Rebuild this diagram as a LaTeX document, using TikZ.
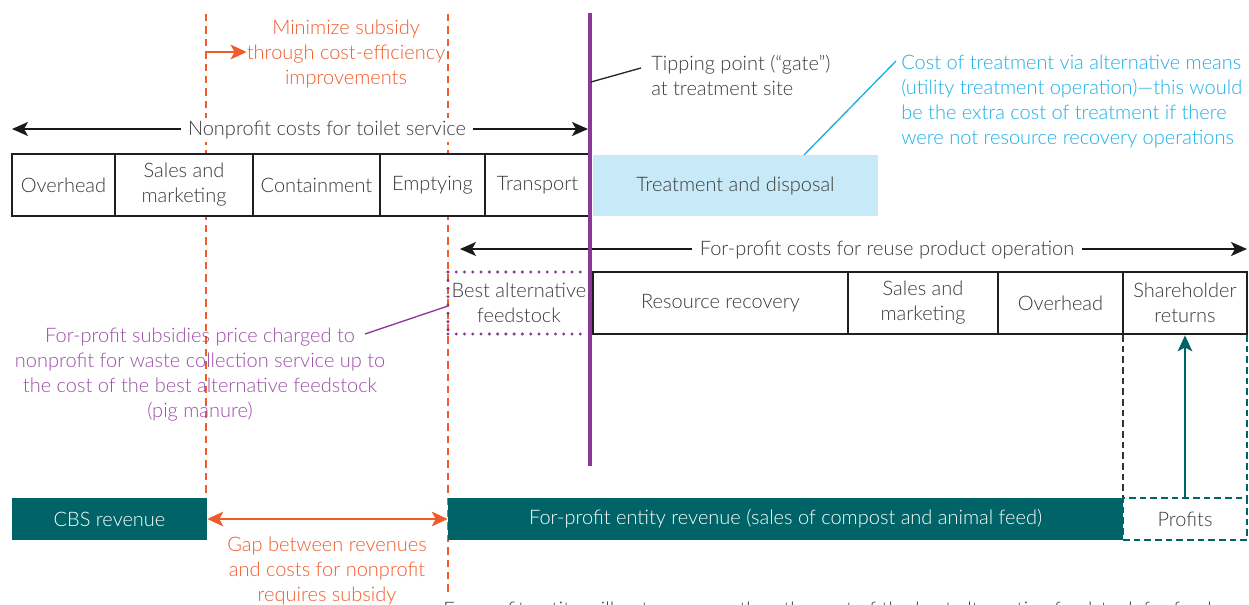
\documentclass[tikz,border=0pt]{standalone}
\usepackage{fontspec}
\setmainfont{Lato}[UprightFont=* Light]
\usetikzlibrary{arrows.meta}
\definecolor{ink}{HTML}{3A3A3A}
\definecolor{subsidy}{HTML}{F15A29}
\definecolor{gate}{HTML}{8A3A96}
\definecolor{feednote}{HTML}{9B4DA6}
\definecolor{sky}{HTML}{1AAFE6}
\definecolor{paleblue}{HTML}{C7E9F8}
\definecolor{revteal}{HTML}{006367}
\tikzset{
  txt/.style={text=ink, align=center, inner sep=0pt},
  cell/.style={draw=black!88, fill=white, line width=2.1pt, text=ink, align=center, inner sep=0pt, minimum height=62*0.75pt},
  revbox/.style={fill=revteal, text=white, inner sep=0pt, minimum height=42*0.75pt},
  subsidyline/.style={draw=subsidy, line width=1.6pt, dash pattern=on 5.5pt off 3.8pt},
  span/.style={draw=black!90, line width=1.3pt, {Stealth[length=12pt,width=10.5pt,inset=3pt]}-{Stealth[length=12pt,width=10.5pt,inset=3pt]}},
  dotline/.style={draw=gate, line width=2.5pt, line cap=round, dash pattern=on 0pt off 6.2pt},
  lead/.style={line width=1pt},
}
\begin{document}
\begin{tikzpicture}[x=0.75pt, y=-0.75pt, font=\fontsize{15}{18.75}\selectfont]
\useasboundingbox (0,0) rectangle (1249,605);

% dashed subsidy boundaries
\coordinate (s1top) at (206,14);
\coordinate (s1bot) at (206,498);
\coordinate (s2top) at (448,14);
\coordinate (s2bot) at (448,596);
\draw[subsidyline] (s1top) -- (s1bot);
\draw[subsidyline] (s2top) -- (s2bot);

% cost-efficiency note
\node[txt, text=subsidy] (minimize) at (346,54) {Minimize subsidy\\through cost-efficiency\\improvements};
\coordinate (effstart) at (206,52);
\draw[draw=subsidy, line width=1.6pt, -{Stealth[length=12pt,width=11pt,inset=3pt]}] (effstart) -- (minimize.west |- effstart);

% nonprofit cost span
\coordinate (npl) at (12,129);
\coordinate (npr) at (588,129);
\draw[span] (npl) -- (npr);
\node[txt, fill=white, inner xsep=5pt, inner ysep=2pt] (npcost) at (327,130) {Nonprofit costs for toilet service};

% nonprofit cost chain
\node[cell, minimum width=103*0.75pt] (ovh1) at (63.5,185) {Overhead};
\node[cell, minimum width=138*0.75pt] (sal1) at (184,185) {Sales and\\marketing};
\node[cell, minimum width=127*0.75pt] (cont) at (316.5,185) {Containment};
\node[cell, minimum width=105*0.75pt] (empt) at (432.5,185) {Emptying};
\node[cell, minimum width=105*0.75pt] (trans) at (537.5,185) {Transport};
\node[fill=paleblue, text=ink, inner sep=0pt, minimum width=285*0.75pt, minimum height=61*0.75pt] (treat) at (735.5,185.5) {Treatment and disposal};

% for-profit cost span
\coordinate (fpl) at (460,249);
\coordinate (fpr) at (1247,249);
\draw[span] (fpl) -- (fpr);
\node[txt, fill=white, inner xsep=6pt, inner ysep=2pt] (fpcost) at (887,250) {For-profit costs for reuse product operation};

% for-profit cost chain
\node[cell, minimum width=255*0.75pt] (recov) at (720.5,303) {Resource recovery};
\node[cell, minimum width=150*0.75pt] (sal2) at (923,303) {Sales and\\marketing};
\node[cell, minimum width=125*0.75pt] (ovh2) at (1060.5,303) {Overhead};
\node[cell, minimum width=124*0.75pt] (share) at (1185,303) {Shareholder\\returns};

% best alternative feedstock
\coordinate (bt1) at (448,272);
\coordinate (bt2) at (586,272);
\coordinate (bb1) at (448,334);
\coordinate (bb2) at (586,334);
\draw[dotline] (bt1) -- (bt2);
\draw[dotline] (bb1) -- (bb2);
\draw[dotline] (bt1) -- (bb1);
\node[txt] (bestalt) at (519,303) {Best alternative\\feedstock};

% tipping point
\coordinate (gtop) at (590,13);
\coordinate (gbot) at (590,466);
\draw[draw=gate, line width=3pt] (gtop) -- (gbot);
\node[txt, align=left, anchor=west] (tip) at (651,75) {Tipping point (\char"201Cgate\char"201D)\\at treatment site};
\coordinate (tipfoot) at (591,82);
\draw[lead, draw=black!85] (tipfoot) -- (641,68);

% utility treatment note
\node[txt, text=sky, align=left, anchor=west] (utility) at (901,101) {Cost of treatment via alternative means\\(utility treatment operation)\char"2014this would\\be the extra cost of treatment if there\\were not resource recovery operations};
\coordinate (skyfoot) at (804,155);
\coordinate (skyhead) at (896,61);
\draw[lead, draw=sky] (skyfoot) -- (skyhead);

% feedstock subsidy note
\node[txt, text=feednote] (feedsub) at (200,375) {For-profit subsidies price charged to\\nonprofit for waste collection service up to\\the cost of the best alternative feedstock\\(pig manure)};
\coordinate (feedtail) at (365,334);
\coordinate (feedhead) at (448,306);
\draw[lead, draw=gate] (feedtail) -- (feedhead);

% profits column
\coordinate (pdl1) at (1123,335);
\coordinate (pdl2) at (1123,498);
\coordinate (pdr1) at (1247,335);
\coordinate (pdr2) at (1247,498);
\draw[draw=black!80, line width=1.1pt, dash pattern=on 5pt off 3pt] (pdl1) -- (pdl2);
\draw[draw=revteal, line width=1.5pt, dash pattern=on 5pt off 3pt] (pdr1) -- (pdr2);

% revenues
\node[revbox, minimum width=195*0.75pt] (cbs) at (109.5,519) {CBS revenue};
\node[revbox, minimum width=675*0.75pt] (fprev) at (785.5,519) {For-profit entity revenue (sales of compost and animal feed)};
\node[draw=revteal, line width=1.5pt, dash pattern=on 5pt off 3pt, text=ink, inner sep=0pt, minimum width=124*0.75pt, minimum height=42*0.75pt] (profits) at (1185,519) {Profits};
\draw[draw=revteal, line width=1.5pt, -{Stealth[length=12pt,width=11pt,inset=3pt]}] (profits.north) -- (share.south);

% revenue gap
\draw[draw=subsidy, line width=1.6pt, {Stealth[length=12pt,width=11pt,inset=3pt]}-{Stealth[length=12pt,width=11pt,inset=3pt]}] (cbs.east) -- (fprev.west);
\node[txt, text=subsidy] (gap) at (327,571) {Gap between revenues\\and costs for nonprofit\\requires subsidy};

% closing remark, running past the lower edge
\node[txt, anchor=base west] (remark) at (443,616) {For-profit entity will not pay more than the cost of the best alternative feedstock for feed};
\end{tikzpicture}
\end{document}
